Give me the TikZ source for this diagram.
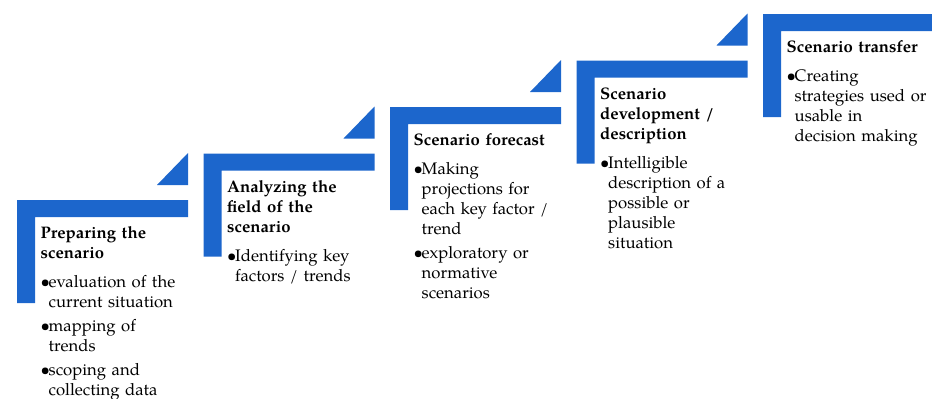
\documentclass[tikz,border=0pt]{standalone}
\usepackage{fontspec}
\setmainfont{TeX Gyre Pagella}
\usepackage{tikz}
\usepackage{xcolor}
\usetikzlibrary{positioning}
\definecolor{stepBlue}{RGB}{28,102,204}
\newcommand{\steptitle}[1]{\strut\textbf{#1}\par\vspace{5pt}}
\newcommand{\stepitem}{\par\vspace{4pt}\hangindent=8pt\hangafter=1\noindent\makebox[8pt][l]{\textbullet}}

\begin{document}
\begin{tikzpicture}[x=1pt, y=-1pt,
    stepbar/.style={fill=stepBlue},
    steptext/.style={anchor=north west, inner sep=0pt, text width=170pt, align=left, font=\fontsize{16.7}{20}\selectfont}]
    \useasboundingbox (0,0) rectangle (932,399);
            % corners and triangles
            \fill[stepbar] (17,200) -- ++(171,0) -- ++(0,17) -- ++(-153,0) -- ++(0,86) -- ++(-18,0) -- cycle;
            \fill[stepbar] (157,185) -- ++(31,0) -- ++(0,-32) -- cycle;
            \fill[stepbar] (203.5,153.5) -- ++(171,0) -- ++(0,17) -- ++(-153,0) -- ++(0,86) -- ++(-18,0) -- cycle;
            \fill[stepbar] (343.5,138.5) -- ++(31,0) -- ++(0,-32) -- cycle;
            \fill[stepbar] (390,107) -- ++(171,0) -- ++(0,17) -- ++(-153,0) -- ++(0,86) -- ++(-18,0) -- cycle;
            \fill[stepbar] (530,92) -- ++(31,0) -- ++(0,-32) -- cycle;
            \fill[stepbar] (576.5,60.5) -- ++(171,0) -- ++(0,17) -- ++(-153,0) -- ++(0,86) -- ++(-18,0) -- cycle;
            \fill[stepbar] (716.5,45.5) -- ++(31,0) -- ++(0,-32) -- cycle;
            \fill[stepbar] (763,14) -- (932,14) -- ++(0,17) -- (781,31) -- ++(0,86) -- ++(-18,0) -- cycle;
            % texts
            \node[steptext] (prep) at (40.5,224.5) {\steptitle{Preparing the\newline scenario}%
                \stepitem evaluation of the\newline current situation
                \stepitem mapping of\newline trends
                \stepitem scoping and\newline collecting data\par};
            \node[steptext] (field) at (227,178) {\steptitle{Analyzing the\newline field of the\newline scenario}%
                \stepitem Identifying key\newline factors / trends\par};
            \node[steptext] (forecast) at (413.5,131.5) {\steptitle{Scenario forecast}%
                \stepitem Making\newline projections for\newline each key factor /\newline trend
                \stepitem exploratory or\newline normative\newline scenarios\par};
            \node[steptext] (develop) at (600,85) {\steptitle{Scenario\newline development /\newline description}%
                \stepitem Intelligible\newline description of a\newline possible or\newline plausible\newline situation\par};
            \node[steptext] (transfer) at (786.5,38.5) {\steptitle{Scenario transfer}%
                \stepitem Creating\newline strategies used or\newline usable in\newline decision making\par};
        \end{tikzpicture}
\end{document}
